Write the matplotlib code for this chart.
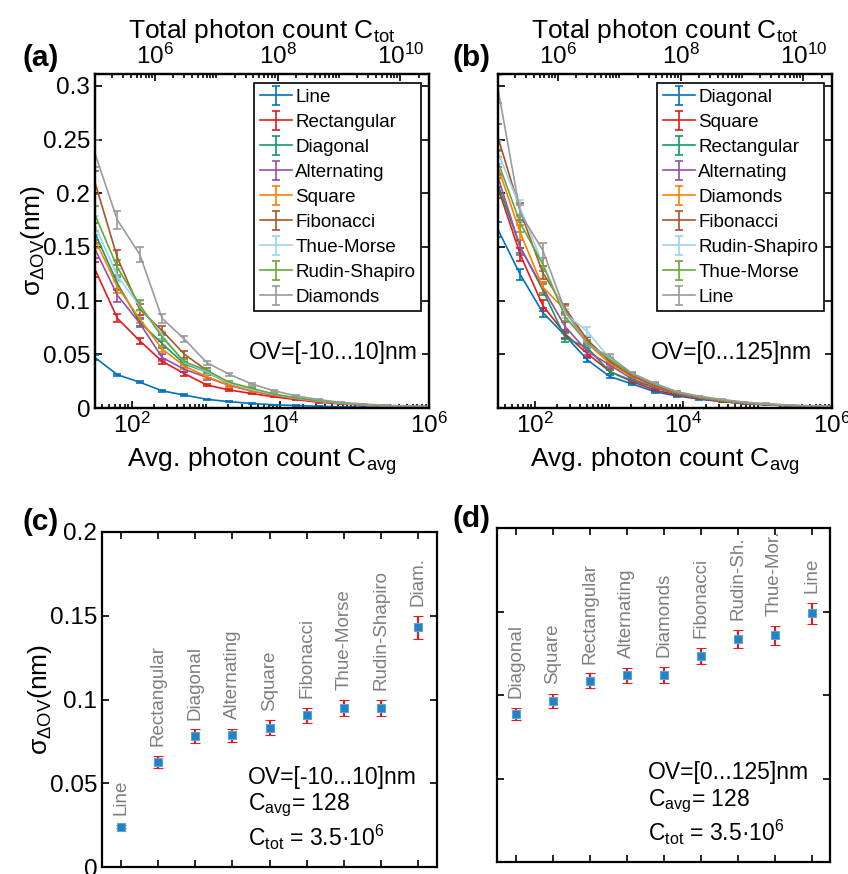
import matplotlib
matplotlib.use("Agg")
import matplotlib.pyplot as plt
from matplotlib.ticker import FixedLocator, LogLocator, NullFormatter, FuncFormatter

plt.rcParams['font.family'] = ['Liberation Sans', 'DejaVu Sans']
plt.rcParams['mathtext.fontset'] = 'custom'
plt.rcParams['mathtext.rm'] = 'Liberation Sans'
plt.rcParams['mathtext.it'] = 'Liberation Sans:italic'
plt.rcParams['mathtext.bf'] = 'Liberation Sans:bold'
plt.rcParams['mathtext.sf'] = 'Liberation Sans'

# ---------------- data ----------------
c_avg = [32, 64, 128, 256, 512, 1024, 2048, 4096, 8192, 16384, 32768,
         65536, 131072, 262144, 524288, 1048576]

# panel (a): OV = [-10...10] nm
names_a = ['Line', 'Rectangular', 'Diagonal', 'Alternating', 'Square',
           'Fibonacci', 'Thue-Morse', 'Rudin-Shapiro', 'Diamonds']
line_a = [0.047, 0.031, 0.024, 0.016, 0.012, 0.0081, 0.0059, 0.0042, 0.003, 0.0023, 0.0016, 0.0011, 0.0008, 0.0006, 0.0004, 0.0003]
rect_a = [0.129, 0.0835, 0.0625, 0.0435, 0.032, 0.0214, 0.0168, 0.0135, 0.0104, 0.0078, 0.0053, 0.0038, 0.0027, 0.0019, 0.0014, 0.001]
diag_a = [0.163, 0.116, 0.080, 0.060, 0.041, 0.0335, 0.0225, 0.017, 0.0125, 0.009, 0.0064, 0.0044, 0.0031, 0.0021, 0.0015, 0.0011]
alt_a = [0.148, 0.105, 0.079, 0.047, 0.036, 0.0285, 0.021, 0.0158, 0.0118, 0.0086, 0.006, 0.0042, 0.003, 0.002, 0.0014, 0.001]
sq_a = [0.157, 0.113, 0.083, 0.055, 0.039, 0.0292, 0.0212, 0.016, 0.012, 0.0088, 0.0062, 0.0043, 0.003, 0.0021, 0.0015, 0.001]
fib_a = [0.210, 0.140, 0.092, 0.072, 0.050, 0.035, 0.023, 0.017, 0.0125, 0.009, 0.0064, 0.0044, 0.0031, 0.0021, 0.0015, 0.0011]
tm_a = [0.170, 0.123, 0.095, 0.068, 0.042, 0.034, 0.023, 0.0172, 0.0127, 0.0091, 0.0064, 0.0045, 0.0031, 0.0021, 0.0015, 0.0011]
rs_a = [0.180, 0.131, 0.096, 0.066, 0.043, 0.035, 0.024, 0.0184, 0.013, 0.0093, 0.0066, 0.0046, 0.0032, 0.0022, 0.0016, 0.0011]
diam_a = [0.237, 0.175, 0.143, 0.0835, 0.064, 0.0422, 0.0314, 0.0224, 0.0161, 0.0112, 0.0078, 0.0053, 0.0037, 0.0025, 0.0017, 0.0012]

line_a_err = [0.0025, 0.001, 0.001, 0.0008, 0.0006, 0.0004, 0.0003, 0.0002, 0.0002, 0.0001, 0.0001, 0.0001, 0.0001, 0.0, 0.0, 0.0]
rect_a_err = [0.007, 0.0036, 0.003, 0.0025, 0.0018, 0.0013, 0.001, 0.0008, 0.0006, 0.0005, 0.0004, 0.0003, 0.0002, 0.0001, 0.0001, 0.0001]
diag_a_err = [0.009, 0.006, 0.004, 0.004, 0.003, 0.002, 0.0015, 0.001, 0.0008, 0.0006, 0.0004, 0.0003, 0.0002, 0.0001, 0.0001, 0.0001]
alt_a_err = [0.008, 0.006, 0.004, 0.003, 0.0025, 0.002, 0.0015, 0.001, 0.0008, 0.0006, 0.0004, 0.0003, 0.0002, 0.0001, 0.0001, 0.0001]
sq_a_err = [0.008, 0.006, 0.004, 0.003, 0.0025, 0.002, 0.0015, 0.001, 0.0008, 0.0006, 0.0004, 0.0003, 0.0002, 0.0001, 0.0001, 0.0001]
fib_a_err = [0.011, 0.007, 0.005, 0.004, 0.003, 0.002, 0.0015, 0.001, 0.0008, 0.0006, 0.0004, 0.0003, 0.0002, 0.0001, 0.0001, 0.0001]
tm_a_err = [0.009, 0.006, 0.005, 0.004, 0.003, 0.002, 0.0015, 0.001, 0.0008, 0.0006, 0.0004, 0.0003, 0.0002, 0.0001, 0.0001, 0.0001]
rs_a_err = [0.008, 0.007, 0.005, 0.004, 0.003, 0.002, 0.0015, 0.001, 0.0008, 0.0006, 0.0004, 0.0003, 0.0002, 0.0001, 0.0001, 0.0001]
diam_a_err = [0.0124, 0.0085, 0.007, 0.004, 0.003, 0.002, 0.0015, 0.0012, 0.0009, 0.0006, 0.0004, 0.0003, 0.0002, 0.0001, 0.0001, 0.0001]

# panel (b): OV = [0...125] nm
names_b = ['Diagonal', 'Square', 'Rectangular', 'Alternating', 'Diamonds',
           'Fibonacci', 'Rudin-Shapiro', 'Thue-Morse', 'Line']
diag_b = [0.166, 0.124, 0.089, 0.0675, 0.0447, 0.0292, 0.0224, 0.0152, 0.0112, 0.0083, 0.0059, 0.0041, 0.0029, 0.002, 0.0014, 0.001]
sq_b = [0.205, 0.1426, 0.0955, 0.069, 0.0505, 0.034, 0.0245, 0.0168, 0.0121, 0.0087, 0.0061, 0.0043, 0.003, 0.0021, 0.0015, 0.001]
rect_b = [0.208, 0.150, 0.110, 0.0655, 0.056, 0.0338, 0.0255, 0.019, 0.013, 0.0092, 0.0065, 0.0045, 0.0032, 0.0022, 0.0016, 0.0011]
alt_b = [0.215, 0.149, 0.112, 0.0758, 0.0525, 0.040, 0.027, 0.0195, 0.0135, 0.0095, 0.0067, 0.0047, 0.0033, 0.0023, 0.0016, 0.0011]
diam_b = [0.224, 0.163, 0.1125, 0.0915, 0.060, 0.0416, 0.0292, 0.0205, 0.014, 0.0098, 0.0069, 0.0048, 0.0034, 0.0024, 0.0017, 0.0012]
fib_b = [0.252, 0.183, 0.126, 0.0929, 0.0634, 0.0433, 0.030, 0.021, 0.0143, 0.01, 0.007, 0.0049, 0.0035, 0.0024, 0.0017, 0.0012]
rs_b = [0.238, 0.186, 0.134, 0.088, 0.0711, 0.046, 0.032, 0.0225, 0.015, 0.0105, 0.0074, 0.0052, 0.0036, 0.0025, 0.0018, 0.0012]
tm_b = [0.229, 0.172, 0.134, 0.085, 0.0603, 0.045, 0.0315, 0.0225, 0.0148, 0.0104, 0.0073, 0.0051, 0.0036, 0.0025, 0.0018, 0.0012]
line_b = [0.297, 0.181, 0.147, 0.0906, 0.0587, 0.0478, 0.0323, 0.0229, 0.0152, 0.011, 0.008, 0.0055, 0.004, 0.0028, 0.002, 0.0014]

diag_b_err = [0.007, 0.005, 0.004, 0.003, 0.002, 0.0015, 0.001, 0.0008, 0.0006, 0.0005, 0.0004, 0.0003, 0.0002, 0.0001, 0.0001, 0.0001]
sq_b_err = [0.009, 0.006, 0.005, 0.004, 0.003, 0.002, 0.0015, 0.001, 0.0008, 0.0006, 0.0004, 0.0003, 0.0002, 0.0001, 0.0001, 0.0001]
rect_b_err = [0.009, 0.006, 0.005, 0.004, 0.003, 0.002, 0.0015, 0.001, 0.0008, 0.0006, 0.0004, 0.0003, 0.0002, 0.0001, 0.0001, 0.0001]
alt_b_err = [0.009, 0.007, 0.005, 0.004, 0.003, 0.002, 0.0015, 0.001, 0.0008, 0.0006, 0.0004, 0.0003, 0.0002, 0.0001, 0.0001, 0.0001]
diam_b_err = [0.010, 0.007, 0.005, 0.004, 0.003, 0.002, 0.0015, 0.001, 0.0008, 0.0006, 0.0004, 0.0003, 0.0002, 0.0001, 0.0001, 0.0001]
fib_b_err = [0.012, 0.008, 0.006, 0.004, 0.003, 0.002, 0.0015, 0.001, 0.0008, 0.0006, 0.0004, 0.0003, 0.0002, 0.0001, 0.0001, 0.0001]
rs_b_err = [0.011, 0.008, 0.006, 0.004, 0.004, 0.002, 0.0015, 0.001, 0.0008, 0.0006, 0.0004, 0.0003, 0.0002, 0.0001, 0.0001, 0.0001]
tm_b_err = [0.010, 0.008, 0.006, 0.004, 0.003, 0.002, 0.0015, 0.001, 0.0008, 0.0006, 0.0004, 0.0003, 0.0002, 0.0001, 0.0001, 0.0001]
line_b_err = [0.013, 0.008, 0.007, 0.004, 0.003, 0.0025, 0.0015, 0.001, 0.0008, 0.0006, 0.0004, 0.0003, 0.0002, 0.0001, 0.0001, 0.0001]

# panel (c): C_avg = 128, OV = [-10...10] nm
names_c = ['Line', 'Rectangular', 'Diagonal', 'Alternating', 'Square',
           'Fibonacci', 'Thue-Morse', 'Rudin-Shapiro', 'Diam.']
vals_c = [0.024, 0.0627, 0.0782, 0.0786, 0.0832, 0.0905, 0.0948, 0.0952, 0.143]
errs_c = [0.001, 0.0037, 0.004, 0.0038, 0.0043, 0.0045, 0.0048, 0.0048, 0.0071]

# panel (d): C_avg = 128, OV = [0...125] nm
names_d = ['Diagonal', 'Square', 'Rectangular', 'Alternating', 'Diamonds',
           'Fibonacci', 'Rudin-Sh.', 'Thue-Mor.', 'Line']
vals_d = [0.0886, 0.0966, 0.1086, 0.1118, 0.1122, 0.1235, 0.1337, 0.1359, 0.1489]
errs_d = [0.0036, 0.0041, 0.0044, 0.0046, 0.0048, 0.0049, 0.0055, 0.0057, 0.0061]

# ---------------- styling ----------------
C_BLUE = '#0072BD'
C_RED = '#E41A1C'
C_DKGREEN = '#109A6A'
C_PURPLE = '#984EA3'
C_ORANGE = '#FF7F00'
C_BROWN = '#A65628'
C_LTBLUE = '#9DD3F0'
C_GREEN = '#66A83A'
C_GRAY = '#9A9A9A'
colors9 = [C_BLUE, C_RED, C_DKGREEN, C_PURPLE, C_ORANGE, C_BROWN, C_LTBLUE, C_GREEN, C_GRAY]

W, H = 848, 874
fig = plt.figure(figsize=(W / 100, H / 100), dpi=100)


def px_axes(l, r, t, b):
    return fig.add_axes([l / W, (H - b) / H, (r - l) / W, (b - t) / H])


TICK_FS = 17.5
TXT_FS = 16.5
LAB_FS = 19
LEG_FS = 13.5
SPINE_LW = 1.6


def style_spines(ax):
    for s in ax.spines.values():
        s.set_linewidth(SPINE_LW)


ylab = 'σ$_{\\mathregular{ΔOV}}$(nm)'
yfmt = FuncFormatter(lambda v, p: ('%g' % round(v, 4)))


def curve_panel(l, r, t, b, series, errs, names, ov_text, ov_x, show_ylabels):
    ax = px_axes(l, r, t, b)
    for vals, ee, nm, col in zip(series, errs, names, colors9):
        ax.errorbar(c_avg, vals, yerr=ee, color=col, lw=1.2, elinewidth=1.2,
                    capsize=3.0, capthick=1.2, label=nm)
    ax.set_xscale('log')
    ax.set_xlim(c_avg[0], 1.0e6)
    ax.set_ylim(0, 0.311)
    ax.xaxis.set_major_locator(FixedLocator([1e2, 1e4, 1e6]))
    ax.xaxis.set_minor_locator(LogLocator(base=10, subs=range(1, 10), numticks=50))
    ax.xaxis.set_minor_formatter(NullFormatter())
    ax.set_yticks([0, 0.05, 0.1, 0.15, 0.2, 0.25, 0.3])
    ax.yaxis.set_major_formatter(yfmt)
    ax.tick_params(which='both', direction='in', top=False, right=True,
                   labelsize=TICK_FS, width=1.2)
    ax.tick_params(which='major', length=5)
    ax.tick_params(which='minor', length=3)
    if not show_ylabels:
        ax.set_yticklabels([])
    else:
        ax.set_ylabel(ylab, fontsize=LAB_FS, labelpad=-3)
    ax.set_xlabel('Avg. photon count C$_{\\mathregular{avg}}$', fontsize=LAB_FS, labelpad=5)
    style_spines(ax)
    leg = ax.legend(loc='upper right', bbox_to_anchor=(0.976, 0.973), borderaxespad=0,
                    fontsize=LEG_FS, frameon=True, fancybox=False, framealpha=1,
                    edgecolor='black', handlelength=1.7, handletextpad=0.2,
                    labelspacing=0.42, borderpad=0.3)
    leg.get_frame().set_linewidth(1.2)
    ax.text(ov_x, 0.165, ov_text, transform=ax.transAxes, ha='right', va='center',
            fontsize=TXT_FS)
    # top axis: total photon count
    tw = ax.twiny()
    tw.set_xscale('log')
    tw.set_xlim(1.05e5, 2.95e10)
    tw.xaxis.set_major_locator(FixedLocator([1e6, 1e8, 1e10]))
    tw.xaxis.set_minor_locator(LogLocator(base=10, subs=range(1, 10), numticks=60))
    tw.xaxis.set_minor_formatter(NullFormatter())
    tw.tick_params(which='both', direction='in', labelsize=TICK_FS, width=1.2)
    tw.tick_params(which='major', length=5)
    tw.tick_params(which='minor', length=3)
    tw.set_xlabel('Total photon count C$_{\\mathregular{tot}}$', fontsize=LAB_FS, labelpad=4)
    style_spines(tw)
    return ax


def point_panel(l, r, t, b, vals, errs, names, show_ylabels):
    ax = px_axes(l, r, t, b)
    xs = list(range(1, len(vals) + 1))
    ax.errorbar(xs, vals, yerr=errs, fmt='s', color=C_RED, ecolor=C_RED,
                elinewidth=1.5, capsize=3.4, capthick=1.5, ms=5.4,
                mfc='#1F83C6', mec='#5DA2D3', mew=0.8, zorder=3)
    for x, v, e, nm in zip(xs, vals, errs, names):
        ax.annotate(nm, (x, v + e), xytext=(0, 7), textcoords='offset points',
                    rotation=90, ha='center', va='bottom', fontsize=LEG_FS,
                    color='#7F7F7F')
    ax.set_xlim(0.5, len(vals) + 0.5)
    ax.set_ylim(0, 0.2)
    ax.set_xticks(xs)
    ax.set_xticklabels([])
    ax.set_yticks([0, 0.05, 0.1, 0.15, 0.2])
    ax.yaxis.set_major_formatter(yfmt)
    ax.tick_params(which='both', direction='in', top=True, right=True,
                   labelsize=TICK_FS, length=5, width=1.2)
    if not show_ylabels:
        ax.set_yticklabels([])
    else:
        ax.set_ylabel(ylab, fontsize=LAB_FS, labelpad=-3)
    style_spines(ax)
    return ax


ax_a = curve_panel(95, 429, 74, 408,
                   [line_a, rect_a, diag_a, alt_a, sq_a, fib_a, tm_a, rs_a, diam_a],
                   [line_a_err, rect_a_err, diag_a_err, alt_a_err, sq_a_err, fib_a_err,
                    tm_a_err, rs_a_err, diam_a_err],
                   names_a, 'OV=[-10...10]nm', 0.967, True)
ax_b = curve_panel(498, 832, 74, 408,
                   [diag_b, sq_b, rect_b, alt_b, diam_b, fib_b, rs_b, tm_b, line_b],
                   [diag_b_err, sq_b_err, rect_b_err, alt_b_err, diam_b_err, fib_b_err,
                    rs_b_err, tm_b_err, line_b_err],
                   names_b, 'OV=[0...125]nm', 0.94, False)

ax_c = point_panel(102, 437, 532, 867, vals_c, errs_c, names_c, True)
ax_d = point_panel(497, 830, 528, 862, vals_d, errs_d, names_d, False)

for ax, ov, xx in [(ax_c, 'OV=[-10...10]nm', 0.436), (ax_d, 'OV=[0...125]nm', 0.453)]:
    ax.text(xx, 0.268, ov, transform=ax.transAxes, ha='left', va='center', fontsize=TXT_FS)
    ax.text(xx, 0.183, 'C$_{\\mathregular{avg}}$= 128', transform=ax.transAxes,
            ha='left', va='center', fontsize=TXT_FS)
    ax.text(xx, 0.088, 'C$_{\\mathregular{tot}}$ = 3.5·10$^{\\mathregular{6}}$',
            transform=ax.transAxes, ha='left', va='center', fontsize=TXT_FS)

for lab, x, y in [('(a)', 22, 58), ('(b)', 452, 58), ('(c)', 22, 522), ('(d)', 452, 519)]:
    fig.text(x / W, 1 - y / H, lab, fontsize=21.5, fontweight='bold', ha='left', va='center')

fig.savefig('out.png', dpi=100)
